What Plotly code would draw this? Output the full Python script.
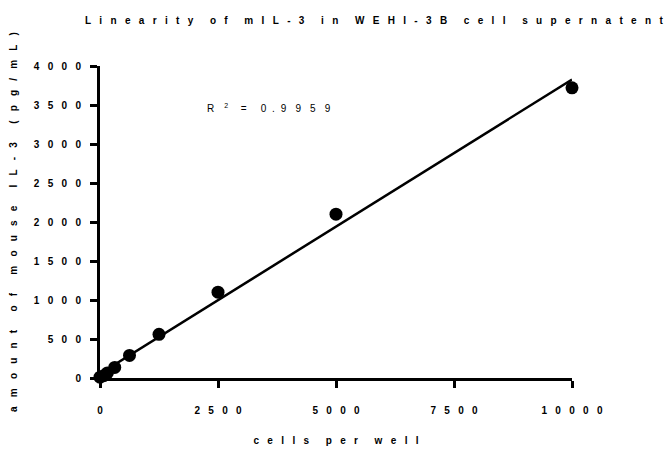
import numpy as np
import plotly.graph_objects as go

# ---- data ----
cells_per_well = [0, 78, 156, 312, 625, 1250, 2500, 5000, 10000]
il3_pg_ml = [10, 30, 65, 135, 290, 560, 1100, 2100, 3720]
x_tickvals = [0, 2500, 5000, 7500, 10000]
x_ticklabels = ["0", "2500", "5000", "7500", "10000"]
y_tickvals = [0, 500, 1000, 1500, 2000, 2500, 3000, 3500, 4000]
y_ticklabels = ["0", "500", "1000", "1500", "2000", "2500", "3000", "3500", "4000"]
r2_value = "0.9959"
title_text = "Linearity of mIL-3 in WEHI-3B cell supernatent"
x_title = "cells per well"
y_title = "amount of mouse IL-3 (pg/mL)"

# letter-spaced rendering (the original uses wide letter spacing)
EN, P3, P4, HAIR, NB = "\u2002", "\u2004", "\u2005", "\u200A", "\u00A0"


def spaced(s, gap):
    words = s.split(" ")
    return (gap + gap).join(gap.join(list(w)) for w in words)


# linear fit
slope, intercept = np.polyfit(cells_per_well, il3_pg_ml, 1)
fit_x = [0, 10000]
fit_y = [slope * v + intercept for v in fit_x]

FONT = "Liberation Sans, Arial, sans-serif"
TICK_GAP = NB * 3
BOLD10 = dict(family=FONT, size=10, color="black", weight="bold")

r2_text = ("R" + EN + EN + "<sup>2</sup>" + EN + EN + P4 + "=" + EN + EN + P3 + HAIR
           + r2_value[0] + EN + HAIR + r2_value[1] + EN + HAIR
           + (EN + P3 + HAIR).join(list(r2_value[2:])))

fig = go.Figure()
fig.add_trace(go.Scatter(
    x=fit_x, y=fit_y, mode="lines",
    line=dict(color="black", width=2.5),
    cliponaxis=False, showlegend=False, hoverinfo="skip",
))
fig.add_trace(go.Scatter(
    x=cells_per_well, y=il3_pg_ml, mode="markers",
    marker=dict(color="black", size=13),
    cliponaxis=False, showlegend=False,
))

fig.update_layout(
    width=664, height=457,
    margin=dict(l=100, r=92, t=66, b=79),
    paper_bgcolor="white", plot_bgcolor="white",
    font=dict(family=FONT, color="black", size=10),
    title=dict(
        text=spaced(title_text, EN + P4 + HAIR), xref="container", yref="container",
        x=0.563, y=0.956, xanchor="center", yanchor="middle",
        font=BOLD10,
    ),
    xaxis=dict(
        range=[0, 10000], tickvals=x_tickvals,
        ticktext=[spaced(t, TICK_GAP) for t in x_ticklabels],
        showgrid=False, zeroline=False, showline=True, linecolor="black",
        linewidth=3, ticks="outside", ticklen=7, tickwidth=3, tickcolor="black",
        ticklabelstandoff=14, tickfont=BOLD10,
        title=dict(text=spaced(x_title, EN + P4 + HAIR), standoff=22, font=BOLD10),
        automargin=False,
    ),
    yaxis=dict(
        range=[0, 4000], tickvals=y_tickvals,
        ticktext=[spaced(t, TICK_GAP) for t in y_ticklabels],
        showgrid=False, zeroline=False, showline=True, linecolor="black",
        linewidth=3, ticks="outside", ticklen=7, tickwidth=3, tickcolor="black",
        ticklabelstandoff=7, tickfont=BOLD10,
        title=dict(text=spaced(y_title, EN + P3 + HAIR), standoff=15, font=BOLD10),
        automargin=False,
    ),
    annotations=[dict(
        text=r2_text,
        x=0.358, y=0.865, xref="paper", yref="paper",
        xanchor="center", yanchor="middle", showarrow=False,
        font=dict(family=FONT, size=10, color="black"),
    )],
)

post_js = "document.body.style.margin='0';"

fig.write_html("out.html", post_script=post_js, config={"displayModeBar": False})
